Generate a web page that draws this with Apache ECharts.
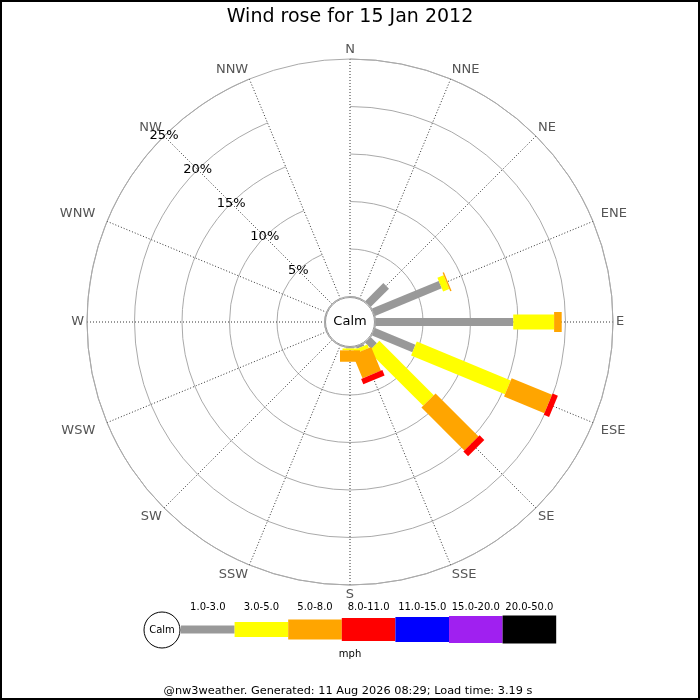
<!DOCTYPE html>
<html>
<head>
<meta charset="utf-8">
<title>Wind rose</title>
<script src="https://cdn.jsdelivr.net/npm/echarts@6/dist/echarts.min.js"></script>
<style>
  html, body { margin: 0; padding: 0; background: #fff; }
  #main { width: 700px; height: 700px; }
</style>
</head>
<body>
<div id="main"></div>
<script>
var directions = ['N', 'NNE', 'NE', 'ENE', 'E', 'ESE', 'SE', 'SSE', 'S', 'SSW', 'SW', 'WSW', 'W', 'WNW', 'NW', 'NNW'];
var speedBins = ['1.0-3.0', '3.0-5.0', '5.0-8.0', '8.0-11.0', '11.0-15.0', '15.0-20.0', '20.0-50.0'];
var binColors = ['#999999', '#ffff00', '#ffa500', '#ff0000', '#0000ff', '#a020f0', '#000000'];
var binWidths = [8, 15, 20, 23, 25, 27, 28];

// % of the day per direction, one array per speed bin (mph)
var bin1to3 = [0, 0, 2.7, 7.6, 14.5, 4.6, 0.9, 0.2, 0.1, 0, 0, 0, 0, 0, 0, 0];
var bin3to5 = [0, 0, 0, 0.7, 4.3, 10.7, 8.1, 0.4, 0.2, 0, 0, 0, 0, 0, 0, 0];
var bin5to8 = [0, 0, 0, 0.15, 0.8, 4.6, 6.4, 2.7, 1.2, 0, 0, 0, 0, 0, 0, 0];
var bin8to11 = [0, 0, 0, 0, 0, 0.6, 0.7, 0.6, 0, 0, 0, 0, 0, 0, 0, 0];
var bin11to15 = [0, 0, 0, 0, 0, 0, 0, 0, 0, 0, 0, 0, 0, 0, 0, 0];
var bin15to20 = [0, 0, 0, 0, 0, 0, 0, 0, 0, 0, 0, 0, 0, 0, 0, 0];
var bin20to50 = [0, 0, 0, 0, 0, 0, 0, 0, 0, 0, 0, 0, 0, 0, 0, 0];
var bins = [bin1to3, bin3to5, bin5to8, bin8to11, bin11to15, bin15to20, bin20to50];

var radiusMax = 25;
var radiusStep = 5;

var font = 'DejaVu Sans';
var chart = echarts.init(document.getElementById('main'));

var roseData = directions.map(function (d, i) {
  return [i].concat(bins.map(function (b) { return b[i]; }));
});

// long labels near the horizontal get pushed a bit further out
var angleLabels = directions.map(function (d, i) {
  var c = Math.cos((90 - 22.5 * i) * Math.PI / 180);
  if (d.length < 3 || Math.abs(c) < 0.9) return d;
  return { value: d, textStyle: { padding: c > 0 ? [0, 0, 0, 5] : [0, 9, 0, 0] } };
});

function renderRose(params, api) {
  var i = api.value(0);
  var cs = params.coordSys;
  var children = [];
  var acc = 0;
  for (var k = 0; k < bins.length; k++) {
    var v = api.value(k + 1);
    if (!v) continue;
    var p0 = api.coord([acc, i]);
    acc += v;
    var p1 = api.coord([acc, i]);
    var dx = p1[0] - cs.cx, dy = p1[1] - cs.cy;
    var len = Math.sqrt(dx * dx + dy * dy);
    var nx = -dy / len * binWidths[k] / 2, ny = dx / len * binWidths[k] / 2;
    children.push({
      type: 'polygon',
      shape: { points: [
        [p0[0] + nx, p0[1] + ny], [p1[0] + nx, p1[1] + ny],
        [p1[0] - nx, p1[1] - ny], [p0[0] - nx, p0[1] - ny]
      ] },
      style: { fill: binColors[k] }
    });
  }
  return { type: 'group', children: children };
}

function renderCalm(params, api) {
  var cs = params.coordSys;
  return {
    type: 'group',
    children: [
      { type: 'circle', shape: { cx: cs.cx, cy: cs.cy, r: cs.r0 - 1 },
        style: { fill: '#fff', stroke: '#999', lineWidth: 1 } },
      { type: 'text', x: cs.cx, y: cs.cy,
        style: { text: 'Calm', fill: '#000', font: '13px ' + font, align: 'center', verticalAlign: 'middle' } }
    ]
  };
}

// legend drawn as graphic, built from the bin arrays
var legendX = 181, legendY = 629.5, boxW = 53.6;
var legendEls = [
  { type: 'circle', shape: { cx: 162, cy: 630, r: 18 }, style: { fill: '#fff', stroke: '#000', lineWidth: 1 }, z: 10 },
  { type: 'text', x: 162, y: 630, style: { text: 'Calm', fill: '#000', font: '10px ' + font, align: 'center', verticalAlign: 'middle' }, z: 11 }
];
speedBins.forEach(function (name, k) {
  var x = legendX + k * boxW;
  legendEls.push({
    type: 'rect', shape: { x: x, y: legendY - binWidths[k] / 2, width: boxW, height: binWidths[k] },
    style: { fill: binColors[k] }, z: 5
  });
  legendEls.push({
    type: 'text', x: x + boxW / 2, y: 607,
    style: { text: name, fill: '#000', font: '10px ' + font, align: 'center', verticalAlign: 'middle' }
  });
});
legendEls.push({ type: 'text', x: 350, y: 654, style: { text: 'mph', fill: '#000', font: '10px ' + font, align: 'center', verticalAlign: 'middle' } });
legendEls.push({ type: 'text', x: 348, y: 691.5, style: { text: '@nw3weather. Generated: 11 Aug 2026 08:29; Load time: 3.19 s', fill: '#000', font: '11.3px ' + font, align: 'center', verticalAlign: 'middle' } });
legendEls.push({ type: 'rect', shape: { x: 1, y: 1, width: 698, height: 698 }, style: { fill: 'none', stroke: '#000', lineWidth: 2 }, z: 20 });

var option = {
  backgroundColor: '#fff',
  animation: false,
  textStyle: { fontFamily: font },
  title: {
    text: 'Wind rose for 15 Jan 2012',
    left: 'center',
    top: 8,
    padding: 0,
    textStyle: { fontSize: 19, fontWeight: 'normal', color: '#000', fontFamily: font }
  },
  polar: [
    { center: [350, 322], radius: [25.5, 263] },
    { center: [350, 322], radius: [25.5, 263] }
  ],
  angleAxis: [
    {
      polarIndex: 0,
      type: 'category',
      data: angleLabels,
      startAngle: 90,
      clockwise: true,
      boundaryGap: false,
      axisLine: { show: true, lineStyle: { color: '#aaa', width: 1 } },
      axisTick: { show: false },
      axisLabel: { color: '#555', fontSize: 13, margin: 3, align: 'center', verticalAlign: 'middle', fontFamily: font },
      splitLine: { show: true, lineStyle: { color: '#333', width: 1, type: [1, 2] } }
    },
    {
      polarIndex: 1,
      type: 'category',
      data: directions,
      startAngle: 135,
      clockwise: true,
      boundaryGap: false,
      show: false
    }
  ],
  radiusAxis: [
    {
      polarIndex: 0,
      min: 0, max: radiusMax, interval: radiusStep,
      axisLine: { show: false },
      axisTick: { show: false },
      axisLabel: { show: false },
      splitLine: { show: true, lineStyle: { color: '#aaa', width: 1 } }
    },
    {
      polarIndex: 1,
      min: 0, max: radiusMax, interval: radiusStep,
      axisLine: { show: false },
      axisTick: { show: false },
      splitLine: { show: false },
      z: 5,
      axisLabel: {
        margin: 0, align: 'center', verticalAlign: 'middle',
        color: '#000', fontSize: 13, fontFamily: font,
        formatter: function (v) { return v ? v + '%' : ''; }
      }
    }
  ],
  series: [
    {
      type: 'custom',
      coordinateSystem: 'polar',
      polarIndex: 0,
      data: roseData,
      encode: { angle: 0, radius: 1 },
      renderItem: renderRose,
      z: 2
    },
    {
      type: 'custom',
      coordinateSystem: 'polar',
      polarIndex: 0,
      data: [[0, 0]],
      encode: { angle: 0, radius: 1 },
      renderItem: renderCalm,
      z: 3
    }
  ],
  graphic: legendEls
};

chart.setOption(option);
</script>
</body>
</html>
